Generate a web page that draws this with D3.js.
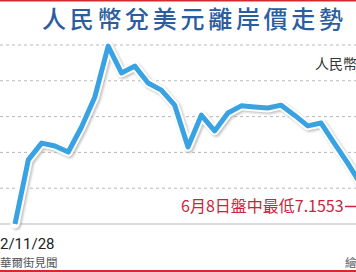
<!DOCTYPE html>
<html lang="zh-Hant">
<head>
<meta charset="UTF-8">
<title>人民幣兌美元離岸價走勢</title>
<script src="https://d3js.org/d3.v7.min.js"></script>
<style>
    html, body { margin: 0; padding: 0; background: #fff; }
    svg { display: block; font-family: "Noto Sans CJK TC", "Noto Sans", sans-serif; }
</style>
</head>
<body>
<div id="chart"></div>
<script>
// weekly offshore CNY per USD
const dates = ['2022-11-28', '2022-12-05', '2022-12-12', '2022-12-19', '2022-12-26',
    '2023-01-02', '2023-01-09', '2023-01-16', '2023-01-23', '2023-01-30',
    '2023-02-06', '2023-02-13', '2023-02-20', '2023-02-27', '2023-03-06',
    '2023-03-13', '2023-03-20', '2023-03-27', '2023-04-03', '2023-04-10',
    '2023-04-17', '2023-04-24', '2023-05-01', '2023-05-08', '2023-05-15',
    '2023-05-22', '2023-05-29', '2023-06-08'];
const rates = [7.200, 7.021, 6.974, 6.982, 6.999,
    6.929, 6.845, 6.703, 6.778, 6.759,
    6.806, 6.826, 6.868, 6.985, 6.896,
    6.940, 6.890, 6.870, 6.873, 6.876,
    6.868, 6.896, 6.926, 6.918, 6.975,
    7.030, 7.090, 7.1553];
const gridTicks = [6.7, 6.8, 6.9, 7.0, 7.1];

const width = 356, height = 272;
const parse = d3.timeParse('%Y-%m-%d');
const data = dates.map((d, i) => ({ date: parse(d), value: rates[i] }));

const svg = d3.select('#chart').append('svg')
    .attr('width', width)
    .attr('height', height);

const x = d3.scaleTime()
    .domain([parse('2022-11-28'), parse('2023-06-08')])
    .range([15, 380]);

// yuan strength up: axis inverted
const y = d3.scaleLinear()
    .domain([7.2, 6.7])
    .range([224, 45]);

// red rules top and bottom
svg.append('rect').attr('x', 0).attr('y', 0).attr('width', width).attr('height', 1.5).attr('fill', '#d42a2f');
svg.append('rect').attr('x', 0).attr('y', 270).attr('width', width).attr('height', 2).attr('fill', '#d42a2f');

// title
svg.append('text')
    .attr('x', 42)
    .attr('y', 28)
    .attr('textLength', 301)
    .attr('lengthAdjust', 'spacing')
    .attr('font-size', 24)
    .attr('font-weight', 500)
    .attr('fill', '#2c5e9f')
    .text('人民幣兌美元離岸價走勢');

// gridlines
svg.append('g')
    .selectAll('line')
    .data(gridTicks)
    .join('line')
    .attr('x1', 0)
    .attr('x2', width)
    .attr('y1', d => y(d))
    .attr('y2', d => y(d))
    .attr('stroke', '#b8b8b8')
    .attr('stroke-width', 1)
    .attr('stroke-dasharray', '3,3');

// baseline
svg.append('line')
    .attr('x1', 0).attr('x2', width)
    .attr('y1', y(7.2)).attr('y2', y(7.2))
    .attr('stroke', '#cfcfcf')
    .attr('stroke-width', 1.5);

// unit label
svg.append('text')
    .attr('x', 315)
    .attr('y', 69)
    .attr('font-size', 14)
    .attr('fill', '#333')
    .text('人民幣');

// line with white halo and soft shadow
const defs = svg.append('defs');
const f = defs.append('filter').attr('id', 'shadow').attr('x', '-10%').attr('y', '-10%').attr('width', '120%').attr('height', '120%');
f.append('feGaussianBlur').attr('stdDeviation', 1.2);

const line = d3.line()
    .x(d => x(d.date))
    .y(d => y(d.value));

svg.append('path')
    .datum(data)
    .attr('d', line)
    .attr('transform', 'translate(1.5,1.5)')
    .attr('fill', 'none')
    .attr('stroke', '#9a9a9a')
    .attr('stroke-opacity', 0.6)
    .attr('stroke-width', 9)
    .attr('stroke-linejoin', 'round')
    .attr('stroke-linecap', 'round')
    .attr('filter', 'url(#shadow)');

svg.append('path')
    .datum(data)
    .attr('d', line)
    .attr('fill', 'none')
    .attr('stroke', '#fff')
    .attr('stroke-width', 9)
    .attr('stroke-linejoin', 'round')
    .attr('stroke-linecap', 'round');

svg.append('path')
    .datum(data)
    .attr('d', line)
    .attr('fill', 'none')
    .attr('stroke', '#38a2e3')
    .attr('stroke-width', 5)
    .attr('stroke-linejoin', 'round');

// annotation for the low
svg.append('text')
    .attr('x', 181)
    .attr('y', 212)
    .attr('font-size', 16)
    .attr('fill', '#c8253a')
    .text('6月8日盤中最低7.1553');
svg.append('line')
    .attr('x1', 345).attr('x2', width)
    .attr('y1', 206.5).attr('y2', 206.5)
    .attr('stroke', '#c8253a')
    .attr('stroke-width', 1.5);

// start date
svg.append('text')
    .attr('x', 0)
    .attr('y', 249)
    .attr('font-family', 'Roboto, "Liberation Sans", sans-serif')
    .attr('font-size', 15)
    .attr('fill', '#222')
    .text('2/11/28');

// source & credit
svg.append('text')
    .attr('x', 0)
    .attr('y', 267)
    .attr('font-size', 11.5)
    .attr('fill', '#555')
    .text('華爾街見聞');
svg.append('text')
    .attr('x', 345)
    .attr('y', 267)
    .attr('font-size', 11.5)
    .attr('fill', '#555')
    .text('繪');
</script>
</body>
</html>
